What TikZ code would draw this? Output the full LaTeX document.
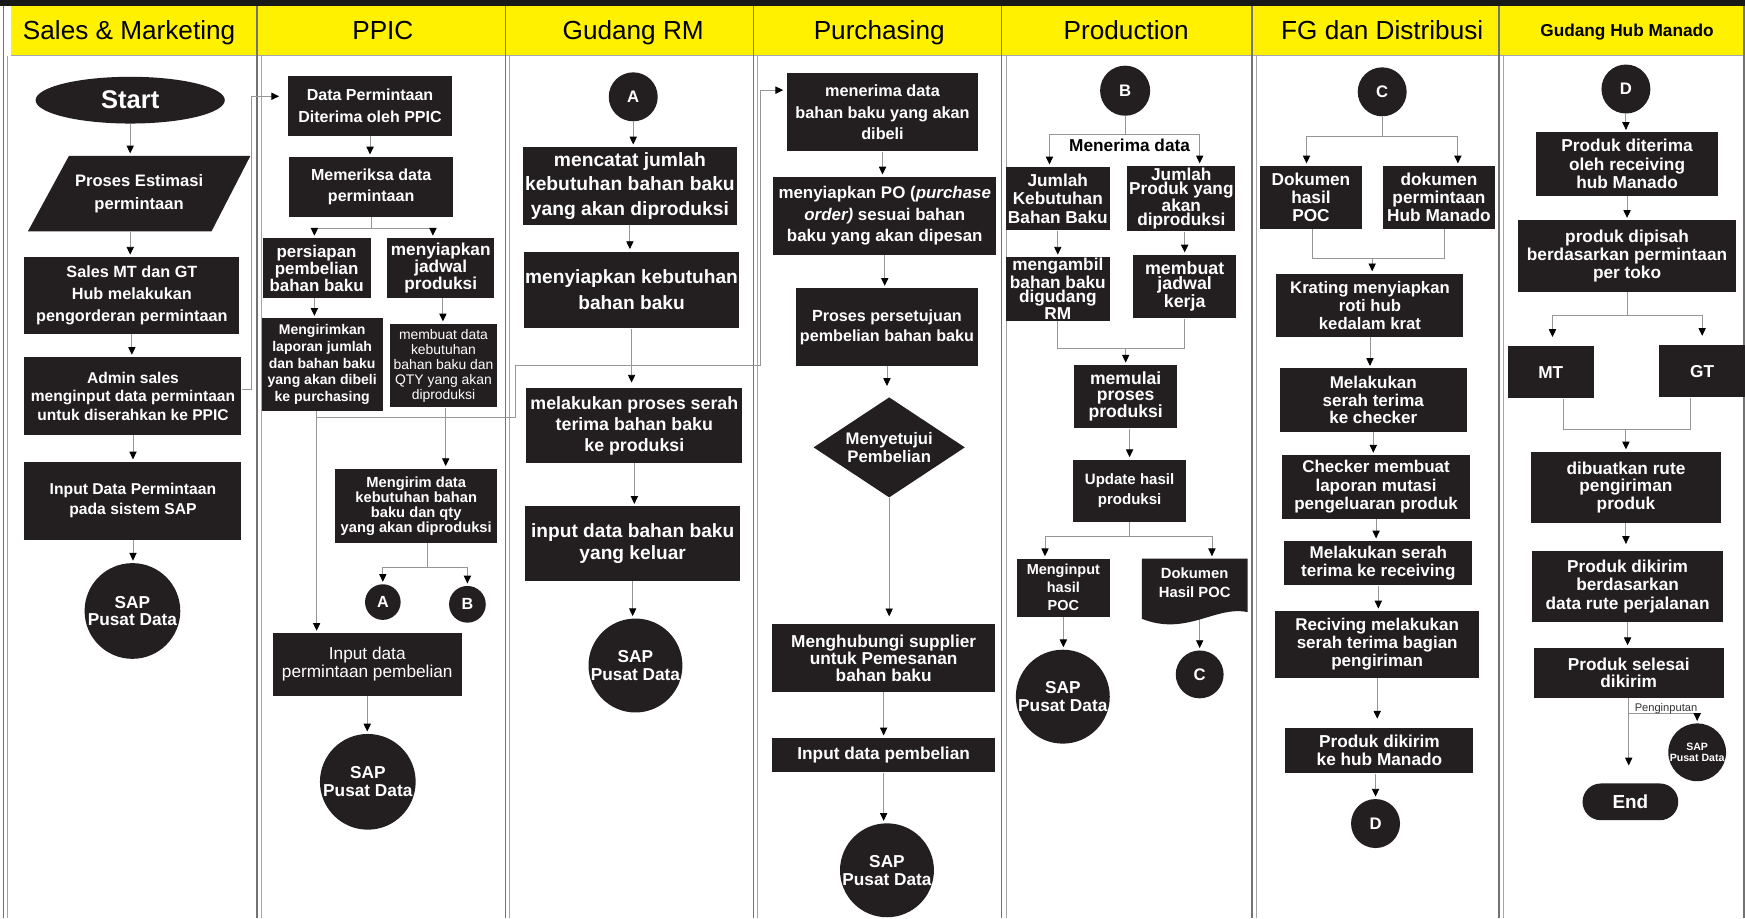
\documentclass[tikz,border=0pt]{standalone}
\usepackage{fontspec}
\setmainfont{Liberation Sans}
\usetikzlibrary{arrows.meta,shapes.geometric}
\definecolor{boxc}{RGB}{35,31,32}
\definecolor{hdry}{RGB}{255,241,0}
\definecolor{lnc}{RGB}{150,150,150}
\newcommand\fsz[2]{\fontsize{#1}{#2}\selectfont}
\newcommand\vconn[2]{\draw[arr] (#1.south) -- (#1.south |- #2.north);}
\pgfdeclarelayer{bg}\pgfdeclarelayer{lines}\pgfsetlayers{bg,lines,main}
\tikzset{
 box/.style={rectangle,fill=boxc,text=white,align=center,inner sep=0pt,font=\bfseries\fsz{15}{16.5}},
 wh/.style 2 args={minimum width=#1pt,minimum height=#2pt},
 sap/.style={circle,fill=boxc,text=white,align=center,inner sep=0pt,minimum size=85pt,font=\bfseries\fsz{15.5}{16}},
 con/.style={circle,fill=boxc,text=white,inner sep=0pt,minimum size=44pt,font=\bfseries\fsz{15}{16}},
 hdr/.style={font=\fsz{23.5}{26},text=black,inner sep=0pt,anchor=base},
 ln/.style={draw=lnc,line width=0.8pt},
 arr/.style={draw=lnc,line width=0.8pt,-{Triangle[width=6.5pt,length=7pt,color=black]},shorten >=2pt},
}
\begin{document}
\begin{tikzpicture}[x=1pt,y=-1pt]
\useasboundingbox (0,0) rectangle (1568,825);
% helper levels
\coordinate (y121) at (0,121); \coordinate (y123) at (0,123);
\coordinate (y205) at (0,205); \coordinate (y232) at (0,232);
\coordinate (y283) at (0,283); \coordinate (y313) at (0,313);
\coordinate (y375) at (0,375); \coordinate (y386) at (0,386);
\coordinate (y482) at (0,482); \coordinate (y510) at (0,510);
\coordinate (y641) at (0,641);
% ---------- background lanes ----------
\begin{pgfonlayer}{bg}
\fill[white] (0,0) rectangle (1568,825);
\fill[black!90] (0,0) rectangle (1568,5);
\foreach \a/\b in {10/231,231/454,454/677,677/900,900/1125,1125/1347,1347/1568}
  {\fill[hdry] (\a,5) rectangle (\b,50);}
\draw[black!35,line width=0.8pt] (10,50) -- (1568,50);
\foreach \x in {3,231,454,677,900,1125,1347}
  {\draw[black!55,line width=1.3pt] (\x,5) -- (\x,825);
   \draw[black!35,line width=0.7pt] (\x+4,50) -- (\x+4,825);}
\draw[black!55,line width=1.3pt] (1567,5) -- (1567,825);
\end{pgfonlayer}
% ---------- headers ----------
\node[hdr] (hd1) at (116,35.5) {Sales \& Marketing};
\node[hdr] (hd2) at (344,35.5) {PPIC};
\node[hdr] (hd3) at (569,35.5) {Gudang RM};
\node[hdr] (hd4) at (790,35.5) {Purchasing};
\node[hdr] (hd5) at (1012,35.5) {Production};
\node[hdr] (hd6) at (1242,35.5) {FG dan Distribusi};
\node[hdr,font=\bfseries\fsz{15.5}{17}] (hd7) at (1462,32.5) {Gudang Hub Manado};
% ---------- Sales & Marketing ----------
\node[ellipse,fill=boxc,text=white,minimum width=170pt,minimum height=42pt,inner sep=0pt,font=\bfseries\fsz{23}{26}] (start) at (117,90) {Start};
\fill[boxc] (62,140) -- (225,140) -- (190,208) -- (25,208) -- cycle;
\node[box,fill=none,wh={160}{68},font=\bfseries\fsz{14.9}{21}] (est) at (125,174) {Proses Estimasi\\permintaan};
\node[box,wh={193}{69},font=\bfseries\fsz{14.6}{20}] (s1) at (118.5,265.5) {Sales MT dan GT\\Hub melakukan\\pengorderan permintaan};
\node[box,wh={195}{70},font=\bfseries\fsz{14}{16.5}] (s2) at (119.5,356) {Admin sales\\menginput data permintaan\\untuk diserahkan ke PPIC};
\node[box,wh={195}{70},font=\bfseries\fsz{14.1}{18}] (s3) at (119.5,450) {Input Data Permintaan\\pada sistem SAP};
\node[sap,minimum size=86pt] (sap1) at (119,549) {SAP\\Pusat Data};
% ---------- PPIC ----------
\node[box,wh={147}{54},font=\bfseries\fsz{14.4}{19.5}] (p1) at (332.5,95) {Data Permintaan\\Diterima oleh PPIC};
\node[box,wh={147}{54},font=\bfseries\fsz{14.4}{19.5}] (p2) at (333.5,168) {Memeriksa data\\permintaan};
\node[box,wh={97}{54},font=\bfseries\fsz{15.2}{15.3}] (p3) at (284.5,241) {persiapan\\pembelian\\bahan baku};
\node[box,wh={96}{54},font=\bfseries\fsz{15.5}{15.3}] (p4) at (396,241) {menyiapkan\\jadwal\\produksi};
\node[box,wh={109}{83},font=\bfseries\fsz{12.6}{15}] (p5) at (289.5,327.5) {Mengirimkan\\laporan jumlah\\dan bahan baku\\yang akan dibeli\\ke purchasing};
\node[box,wh={97}{75},font=\fsz{12.5}{13.5}] (p6) at (398.5,328.5) {membuat data\\kebutuhan\\bahan baku dan\\QTY yang akan\\diproduksi};
\node[box,wh={146}{67},font=\bfseries\fsz{13.2}{13.5}] (p7) at (374,454.5) {Mengirim data\\kebutuhan bahan\\baku dan qty\\yang akan diproduksi};
\node[con,minimum size=32pt,font=\bfseries\fsz{14.5}{15}] (pA) at (344,541) {A};
\node[con,minimum size=33pt,font=\bfseries\fsz{14.5}{15}] (pB) at (420,543) {B};
\node[box,wh={170}{56},font=\fsz{15.5}{16}] (p8) at (330,597) {Input data\\permintaan pembelian};
\node[sap,minimum size=86pt] (sap2) at (330.5,702.5) {SAP\\Pusat Data};
% ---------- Gudang RM ----------
\node[con] (gA) at (569,87) {A};
\node[box,wh={192}{70},font=\bfseries\fsz{17.3}{22}] (g1) at (566,167) {mencatat jumlah\\kebutuhan bahan baku\\yang akan diproduksi};
\node[box,wh={193}{69},font=\bfseries\fsz{17.2}{23}] (g2) at (567.5,260.5) {menyiapkan kebutuhan\\bahan baku};
\node[box,wh={194}{67},font=\bfseries\fsz{16}{19}] (g3) at (570,382.5) {melakukan proses serah\\terima bahan baku\\ke produksi};
\node[box,wh={193}{67},font=\bfseries\fsz{17.2}{20}] (g4) at (568.5,488.5) {input data bahan baku\\yang keluar};
\node[sap,minimum size=84pt] (sap3) at (571,598) {SAP\\Pusat Data};
% ---------- Purchasing ----------
\node[box,wh={172}{70},font=\bfseries\fsz{14.6}{19.5}] (u1) at (793,101) {menerima data\\bahan baku yang akan\\dibeli};
\node[box,wh={200}{70},font=\bfseries\fsz{15.2}{19.3}] (u2) at (795,194) {menyiapkan PO (\textit{purchase}\\\textit{order)} sesuai bahan\\baku yang akan dipesan};
\node[box,wh={164}{70},font=\bfseries\fsz{14.5}{18}] (u3) at (797,294) {Proses persetujuan\\pembelian bahan baku};
\node[diamond,aspect=1.5,fill=boxc,text=white,align=center,inner sep=0pt,minimum width=136pt,minimum height=90pt,font=\bfseries\fsz{15}{16.5}] (dia) at (799,402) {Menyetujui\\Pembelian};
\node[box,wh={200}{61},font=\bfseries\fsz{15.5}{15.5}] (u4) at (794,591.5) {Menghubungi supplier\\untuk Pemesanan\\bahan baku};
\node[box,wh={200}{31},font=\bfseries\fsz{15.5}{16}] (u5) at (794,678.5) {Input data pembelian};
\node[sap,minimum size=84pt] (sap4) at (797,782) {SAP\\Pusat Data};
% ---------- Production ----------
\node[con,minimum size=45pt] (B) at (1011,81.5) {B};
\node[font=\bfseries\fsz{15.5}{16},text=black,inner sep=0pt] (mdl) at (1015,131) {Menerima data};
\node[box,wh={93}{57},font=\bfseries\fsz{15.5}{16.5}] (r1) at (950.5,178.5) {Jumlah\\Kebutuhan\\Bahan Baku};
\node[box,wh={97}{59},font=\bfseries\fsz{15.5}{12.5}] (r2) at (1061.5,178.5) {Jumlah\\Produk yang\\akan\\diproduksi};
\node[box,wh={93}{57},font=\bfseries\fsz{15.5}{13.2}] (r3) at (950.5,259.5) {mengambil\\bahan baku\\digudang\\RM};
\node[box,wh={93}{57},font=\bfseries\fsz{16}{13.5}] (r4) at (1064.5,257.5) {membuat\\jadwal\\kerja};
\node[box,wh={93}{57},font=\bfseries\fsz{15.8}{14}] (r5) at (1011.5,356.5) {memulai\\proses\\produksi};
\node[box,wh={102}{56},font=\bfseries\fsz{13.5}{18}] (r6) at (1015,441) {Update hasil\\produksi};
\node[box,wh={83}{52},font=\bfseries\fsz{13}{16}] (r7) at (955.5,528) {Menginput\\hasil\\POC};
\fill[boxc] (1026,502) -- (1121,502) -- (1121,550) .. controls (1092,544) and (1066,572) .. (1026,556) -- cycle;
\node[box,fill=none,wh={95}{44},font=\bfseries\fsz{13.3}{17}] (doc) at (1073.5,524) {Dokumen\\Hasil POC};
\node[sap,minimum size=84pt] (sap5) at (955,626) {SAP\\Pusat Data};
\node[con,minimum size=43pt] (C) at (1078,606) {C};
% ---------- FG dan Distribusi ----------
\node[con] (C2) at (1242,82.5) {C};
\node[box,wh={92}{57},font=\bfseries\fsz{15.5}{16.3}] (f1) at (1178,177.5) {Dokumen\\hasil\\POC};
\node[box,wh={100}{57},font=\bfseries\fsz{15.5}{16.3}] (f2) at (1293,177.5) {dokumen\\permintaan\\Hub Manado};
\node[box,wh={168}{57},font=\bfseries\fsz{15}{16.5}] (f3) at (1231,274.5) {Krating menyiapkan\\roti hub\\kedalam krat};
\node[box,wh={168}{57},font=\bfseries\fsz{15.3}{16}] (f4) at (1234,359.5) {Melakukan\\serah terima\\ke checker};
\node[box,wh={169}{57},font=\bfseries\fsz{15.3}{16.5}] (f5) at (1236.5,437.5) {Checker membuat\\laporan mutasi\\pengeluaran produk};
\node[box,wh={169}{40},font=\bfseries\fsz{15.3}{17}] (f6) at (1238.5,506) {Melakukan serah\\terima ke receiving};
\node[box,wh={183}{60},font=\bfseries\fsz{15.3}{16}] (f7) at (1237.5,579) {Reciving melakukan\\serah terima bagian\\pengiriman};
\node[box,wh={169}{41},font=\bfseries\fsz{15.5}{16.5}] (f8) at (1239.5,674.5) {Produk dikirim\\ke hub Manado};
\node[con] (D) at (1236,740) {D};
% ---------- Gudang Hub Manado ----------
\node[con] (D2) at (1461,80) {D};
\node[box,wh={164}{57},font=\bfseries\fsz{15.5}{16.5}] (h1) at (1462,147.5) {Produk diterima\\oleh receiving\\hub Manado};
\node[box,wh={196}{64},font=\bfseries\fsz{15.5}{16.5}] (h2) at (1462,230) {produk dipisah\\berdasarkan permintaan\\per toko};
\node[box,wh={77}{47},font=\bfseries\fsz{15.5}{16}] (mt) at (1393.5,334.5) {MT};
\node[box,wh={77}{47},font=\bfseries\fsz{15.5}{16}] (gt) at (1529.5,333.5) {GT};
\node[box,wh={170}{64},font=\bfseries\fsz{15.5}{16}] (h3) at (1461,438) {dibuatkan rute\\pengiriman\\produk};
\node[box,wh={171}{64},font=\bfseries\fsz{15.5}{16.3}] (h4) at (1462.5,527) {Produk dikirim\\berdasarkan\\data rute perjalanan};
\node[box,wh={171}{45},font=\bfseries\fsz{15.5}{16}] (h5) at (1463.5,604.5) {Produk selesai\\dikirim};
\node[rectangle,rounded corners=16.5pt,fill=boxc,text=white,inner sep=0pt,minimum width=86pt,minimum height=33pt,font=\bfseries\fsz{17}{18}] (endn) at (1465,720.5) {End};
\node[sap,minimum size=45pt,font=\bfseries\fsz{9.5}{10.5}] (sapS) at (1525,676) {SAP\\Pusat Data};
\node[font=\fsz{10}{11},text=black!80,inner sep=0pt,anchor=base] (pgl) at (1497,639) {Penginputan};
% ---------- connectors ----------
\begin{pgfonlayer}{lines}
% Sales & Marketing
\draw[arr] (start.south) -- (start.south |- est.north);
\draw[arr] (start.south |- est.south) -- (start.south |- s1.north);
\vconn{s1}{s2}
\vconn{s2}{s3}
\vconn{s3}{sap1}
\draw[arr,shorten >=8pt] ([yshift=6pt]s2.east) -- (226,350) |- ([yshift=8.5pt]p1.west);
% PPIC
\vconn{p1}{p2}
\draw[ln] (p2.south) -- (p2.south |- y205);
\draw[arr] (p2.south |- y205) -| ([xshift=-2pt]p3.north);
\draw[arr] (p2.south |- y205) -| ([xshift=-7pt]p4.north);
\draw[arr] ([xshift=-2pt]p3.south) -- ([xshift=-2pt]p3.south |- p5.north);
\draw[arr] ([xshift=2pt]p4.south) -- ([xshift=2pt]p4.south |- p6.north);
\draw[arr] ([xshift=-5pt]p5.south) -- ([xshift=-5pt]p5.south |- p8.north);
\draw[arr,shorten >=3pt] ([xshift=-5pt]p5.south |- y375) -- (463,375) -- (463,328) -- (683,328) |- ([yshift=20pt]u1.west);
\draw[arr] ([xshift=2pt]p6.south) -- ([xshift=2pt]p6.south |- p7.north);
\draw[ln] ([xshift=10pt]p7.south) -- ([xshift=10pt]p7.south |- y510);
\draw[arr] ([xshift=10pt]p7.south |- y510) -| (pA.north);
\draw[arr] ([xshift=10pt]p7.south |- y510) -| (pB.north);
\vconn{p8}{sap2}
% Gudang RM
\vconn{gA}{g1}
\vconn{g1}{g2}
\draw[arr,shorten >=5pt] (g2.south) -- (g2.south |- g3.north);
\vconn{g3}{g4}
\vconn{g4}{sap3}
% Purchasing
\vconn{u1}{u2}
\vconn{u2}{u3}
\draw[arr,shorten >=10pt] (u3.south) -- (u3.south |- dia.north);
\draw[arr,shorten >=7pt] (dia.south) -- (dia.south |- u4.north);
\vconn{u4}{u5}
\vconn{u5}{sap4}
% Production
\draw[ln] (B.south) -- (B.south |- y121);
\draw[arr] (B.south |- y121) -| ([xshift=-7.5pt]r1.north);
\draw[arr] (B.south |- y121) -| ([xshift=16.5pt]r2.north);
\vconn{r1}{r3}
\draw[arr] ([xshift=3pt]r2.south) -- ([xshift=3pt]r2.south |- r4.north);
\draw[ln] (r3.south) -- (r3.south |- y313) -- (r4.south |- y313) -- (r4.south);
\draw[arr] (r5.north |- y313) -- (r5.north);
\draw[arr] ([xshift=3.5pt]r5.south) -- ([xshift=3.5pt]r5.south |- r6.north);
\draw[ln] (r6.south) -- (r6.south |- y482);
\draw[arr] (r6.south |- y482) -| ([xshift=-16.5pt]r7.north);
\draw[arr] (r6.south |- y482) -| ([xshift=15.5pt]doc.north);
\vconn{r7}{sap5}
\draw[arr] (doc.south -| C.north) -- (C.north);
% FG dan Distribusi
\draw[ln] (C2.south) -- (C2.south |- y123);
\draw[arr] (C2.south |- y123) -| ([xshift=-4pt]f1.north);
\draw[arr] (C2.south |- y123) -| ([xshift=17pt]f2.north);
\draw[ln] ([xshift=1pt]f1.south) |- ([xshift=5pt]f2.south |- y232) -- ([xshift=5pt]f2.south);
\draw[arr] ([xshift=2pt]f3.north |- y232) -- ([xshift=2pt]f3.north);
\vconn{f3}{f4}
\vconn{f4}{f5}
\vconn{f5}{f6}
\vconn{f6}{f7}
\draw[arr,shorten >=8pt] (f7.south) -- (f7.south |- f8.north);
\draw[arr] (D.north |- f8.south) -- (D.north);
% Gudang Hub Manado
\vconn{D2}{h1}
\vconn{h1}{h2}
\draw[ln] (h2.south) -- (h2.south |- y283);
\draw[arr,shorten >=8pt] (h2.south |- y283) -| (gt.north);
\draw[arr,shorten >=8pt] (h2.south |- y283) -| ([xshift=1.5pt]mt.north);
\draw[ln] ([xshift=11.5pt]mt.south) |- ([xshift=-10.5pt]gt.south |- y386) -- ([xshift=-10.5pt]gt.south);
\draw[arr] (h3.north |- y386) -- (h3.north);
\draw[arr,shorten >=6pt] (h3.south) -- (h3.south |- h4.north);
\vconn{h4}{h5}
\draw[arr,shorten >=16pt] (h5.south) -- (h5.south |- endn.north);
\draw[arr] (h5.south |- y641) -| (sapS.north);
\end{pgfonlayer}
\end{tikzpicture}
\end{document}
